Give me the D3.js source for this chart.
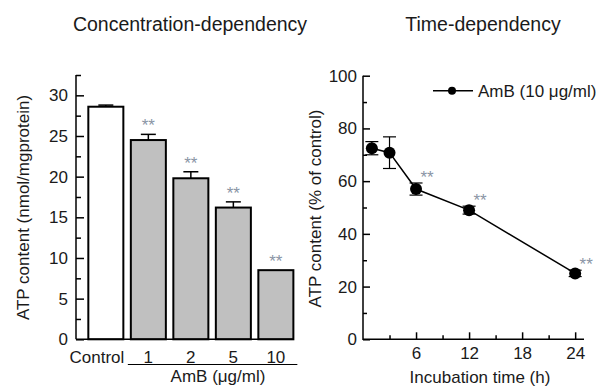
<!DOCTYPE html>
<html>
<head>
<meta charset="utf-8">
<script src="https://cdn.jsdelivr.net/npm/d3@7"></script>
<style>
  body { margin: 0; background: #fff; }
  svg { display: block; font-family: "Liberation Sans", Arial, sans-serif; }
  text { fill: #1a1a1a; }
</style>
</head>
<body>
<svg id="chart" width="596" height="386"></svg>
<script>
// left panel: ATP content by AmB concentration
const concCats = ['Control', '1', '2', '5', '10']
const concMeans = [28.6, 24.5, 19.8, 16.2, 8.5]
const concErr = [0.2, 0.7, 0.8, 0.7, 0]
const concSig = [false, true, true, true, true]
const concTicks = [0, 5, 10, 15, 20, 25, 30]
const concMinor = [2.5, 7.5, 12.5, 17.5, 22.5, 27.5, 32.5]

// right panel: ATP content over time with AmB 10 ug/ml
const timeHours = [1, 3, 6, 12, 24]
const timeMeans = [72.5, 70.8, 57, 49, 25]
const timeErr = [2.5, 6, 2.3, 1.5, 1.2]
const timeSig = [false, false, true, true, true]
const timeXTicks = [6, 12, 18, 24]
const timeXMinor = [3, 9, 15, 21]
const timeYTicks = [0, 20, 40, 60, 80, 100]
const timeYMinor = [10, 30, 50, 70, 90]

const starColor = '#8a95a5'
const svg = d3.select('#chart')

// ---------- left ----------
let yL = d3.scaleLinear().domain([0, 32.5]).range([339.3, 75])
let xL = d3.scaleBand().domain(concCats).range([76, 305.7]).paddingInner(0.176).paddingOuter(0.29)

let gL = svg.append('g')

gL.append('g')
  .attr('transform', 'translate(76,0)')
  .call(d3.axisLeft(yL).tickValues(concTicks).tickSize(-8).tickSizeOuter(0).tickPadding(8))
  .call(g => g.select('.domain').remove())
  .call(g => g.selectAll('text').attr('font-size', 17).attr('fill', '#1a1a1a'))
  .call(g => g.selectAll('line').attr('stroke-width', 1.5))

gL.append('g')
  .attr('transform', 'translate(76,0)')
  .call(d3.axisLeft(yL).tickValues(concMinor).tickSize(-5).tickFormat(''))
  .call(g => g.select('.domain').remove())
  .call(g => g.selectAll('line').attr('stroke-width', 1.5))

let barData = concCats.map((c, i) => ({ c, v: concMeans[i], e: concErr[i], s: concSig[i], i }))

gL.selectAll('rect.bar')
  .data(barData)
  .enter().append('rect')
    .attr('class', 'bar')
    .attr('x', d => xL(d.c))
    .attr('y', d => yL(d.v))
    .attr('width', xL.bandwidth())
    .attr('height', d => yL(0) - yL(d.v))
    .attr('fill', d => d.i === 0 ? '#fff' : '#c0c0c0')
    .attr('stroke', '#000')
    .attr('stroke-width', 2)

let errL = gL.selectAll('g.err').data(barData.filter(d => d.e > 0)).enter().append('g')
errL.append('line')
  .attr('x1', d => xL(d.c) + xL.bandwidth() / 2)
  .attr('x2', d => xL(d.c) + xL.bandwidth() / 2)
  .attr('y1', d => yL(d.v))
  .attr('y2', d => yL(d.v + d.e))
  .attr('stroke', '#000').attr('stroke-width', 1.5)
errL.append('line')
  .attr('x1', d => xL(d.c) + xL.bandwidth() / 2 - 7.5)
  .attr('x2', d => xL(d.c) + xL.bandwidth() / 2 + 7.5)
  .attr('y1', d => yL(d.v + d.e))
  .attr('y2', d => yL(d.v + d.e))
  .attr('stroke', '#000').attr('stroke-width', 1.5)

gL.selectAll('text.star')
  .data(barData.filter(d => d.s))
  .enter().append('text')
    .attr('class', 'star')
    .attr('x', d => xL(d.c) + xL.bandwidth() / 2)
    .attr('y', d => yL(d.v + d.e) - 3)
    .attr('text-anchor', 'middle')
    .attr('font-size', 17)
    .style('fill', starColor)
    .text('**')

// baseline, drawn to the edge of the last bar
let lastBar = concCats[concCats.length - 1]
gL.append('line')
  .attr('x1', 76).attr('x2', xL(lastBar) + xL.bandwidth())
  .attr('y1', yL(0)).attr('y2', yL(0))
  .attr('stroke', '#000').attr('stroke-width', 1.5)
gL.append('line')
  .attr('x1', 76).attr('x2', 76)
  .attr('y1', yL(0)).attr('y2', yL(32.5))
  .attr('stroke', '#000').attr('stroke-width', 1.5)

gL.selectAll('text.cat')
  .data(barData)
  .enter().append('text')
    .attr('class', 'cat')
    .attr('x', d => d.i === 0 ? xL(d.c) + xL.bandwidth() + 1 : xL(d.c) + xL.bandwidth() / 2)
    .attr('y', 362.5)
    .attr('text-anchor', d => d.i === 0 ? 'end' : 'middle')
    .attr('font-size', 17)
    .text(d => d.c)

gL.append('line')
  .attr('x1', xL(concCats[1]) - 3).attr('x2', xL(lastBar) + xL.bandwidth() + 4)
  .attr('y1', 364.5).attr('y2', 364.5)
  .attr('stroke', '#000').attr('stroke-width', 1)

gL.append('text')
  .attr('x', 218).attr('y', 382)
  .attr('text-anchor', 'middle').attr('font-size', 17)
  .text('AmB (μg/ml)')

gL.append('text')
  .attr('transform', 'translate(29,207.5) rotate(-90)')
  .attr('text-anchor', 'middle').attr('font-size', 17)
  .text('ATP content (nmol/mgprotein)')

svg.append('text')
  .attr('x', 190).attr('y', 31)
  .attr('text-anchor', 'middle').attr('font-size', 19.5)
  .text('Concentration-dependency')

// ---------- right ----------
let xR = d3.scaleLinear().domain([0, 25]).range([363, 584])
let yR = d3.scaleLinear().domain([0, 100]).range([339.3, 75.7])

let gR = svg.append('g')

gR.append('g')
  .attr('transform', 'translate(363,0)')
  .call(d3.axisLeft(yR).tickValues(timeYTicks).tickSize(-7).tickSizeOuter(0).tickPadding(6))
  .call(g => g.select('.domain').remove())
  .call(g => g.selectAll('text').attr('font-size', 17).attr('fill', '#1a1a1a'))
  .call(g => g.selectAll('line').attr('stroke-width', 1.5))
gR.append('g')
  .attr('transform', 'translate(363,0)')
  .call(d3.axisLeft(yR).tickValues(timeYMinor).tickSize(-4).tickFormat(''))
  .call(g => g.select('.domain').remove())
  .call(g => g.selectAll('line').attr('stroke-width', 1.5))

gR.append('g')
  .attr('transform', `translate(0,${yR(0)})`)
  .call(d3.axisBottom(xR).tickValues(timeXTicks).tickSize(-7).tickSizeOuter(0).tickPadding(8))
  .call(g => g.select('.domain').remove())
  .call(g => g.selectAll('text').attr('font-size', 17).attr('fill', '#1a1a1a'))
  .call(g => g.selectAll('line').attr('stroke-width', 1.5))
gR.append('g')
  .attr('transform', `translate(0,${yR(0)})`)
  .call(d3.axisBottom(xR).tickValues(timeXMinor).tickSize(-4).tickFormat(''))
  .call(g => g.select('.domain').remove())
  .call(g => g.selectAll('line').attr('stroke-width', 1.5))

gR.append('path')
  .attr('d', `M${xR(0)},${yR(100)}V${yR(0)}H${xR(25)}`)
  .attr('fill', 'none').attr('stroke', '#000').attr('stroke-width', 1.5)

let pts = timeHours.map((t, i) => ({ t, v: timeMeans[i], e: timeErr[i], s: timeSig[i] }))

gR.append('path')
  .datum(pts)
  .attr('d', d3.line().x(d => xR(d.t)).y(d => yR(d.v)))
  .attr('fill', 'none').attr('stroke', '#000').attr('stroke-width', 1.5)

let errR = gR.selectAll('g.err').data(pts).enter().append('g')
errR.append('line')
  .attr('x1', d => xR(d.t)).attr('x2', d => xR(d.t))
  .attr('y1', d => yR(d.v - d.e)).attr('y2', d => yR(d.v + d.e))
  .attr('stroke', '#000').attr('stroke-width', 1.2)
errR.selectAll('line.cap')
  .data(d => [d.v - d.e, d.v + d.e].map(v => ({ t: d.t, v })))
  .enter().append('line')
    .attr('class', 'cap')
    .attr('x1', d => xR(d.t) - 6.5).attr('x2', d => xR(d.t) + 6.5)
    .attr('y1', d => yR(d.v)).attr('y2', d => yR(d.v))
    .attr('stroke', '#000').attr('stroke-width', 1.2)

gR.selectAll('circle.pt')
  .data(pts)
  .enter().append('circle')
    .attr('class', 'pt')
    .attr('cx', d => xR(d.t)).attr('cy', d => yR(d.v))
    .attr('r', 6).attr('fill', '#000')

gR.selectAll('text.star')
  .data(pts.filter(d => d.s))
  .enter().append('text')
    .attr('class', 'star')
    .attr('x', d => xR(d.t) + 11)
    .attr('y', d => yR(d.v + d.e))
    .attr('text-anchor', 'middle')
    .attr('font-size', 17)
    .style('fill', starColor)
    .text('**')

// legend
let lg = gR.append('g').attr('transform', 'translate(433,90.7)')
lg.append('line').attr('x1', 0).attr('x2', 40).attr('y1', 0).attr('y2', 0)
  .attr('stroke', '#000').attr('stroke-width', 1.5)
lg.append('circle').attr('cx', 19).attr('cy', 0).attr('r', 4).attr('fill', '#000')
lg.append('text').attr('x', 45).attr('y', 6).attr('font-size', 17).text('AmB (10 μg/ml)')

gR.append('text')
  .attr('x', 480).attr('y', 382.5)
  .attr('text-anchor', 'middle').attr('font-size', 17)
  .text('Incubation time (h)')

gR.append('text')
  .attr('transform', 'translate(321,208.5) rotate(-90)')
  .attr('text-anchor', 'middle').attr('font-size', 17)
  .text('ATP content (% of control)')

svg.append('text')
  .attr('x', 483).attr('y', 31)
  .attr('text-anchor', 'middle').attr('font-size', 19.5)
  .text('Time-dependency')
</script>
</body>
</html>
